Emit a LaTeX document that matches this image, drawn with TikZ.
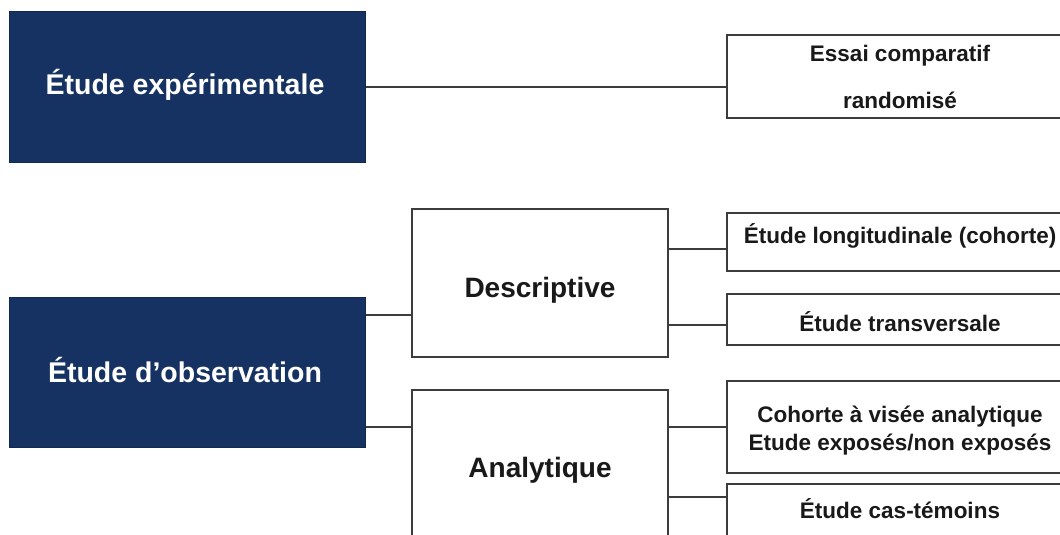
\documentclass[tikz,border=0pt]{standalone}
\usepackage{fontspec}
\setmainfont{Liberation Sans}
\definecolor{navy}{RGB}{22,50,98}
\definecolor{edge}{RGB}{60,60,60}
\definecolor{ink}{RGB}{25,25,25}
\begin{document}
\begin{tikzpicture}[x=1pt,y=-1pt,
  darkbox/.style={draw=navy!80!black,fill=navy,line width=1pt,inner sep=0pt},
  whitebox/.style={draw=edge,fill=white,line width=2pt,inner sep=0pt},
  bigtext/.style={text=white,font=\fontsize{28.5}{32}\selectfont\bfseries,anchor=base,inner sep=0pt},
  midtext/.style={text=ink,font=\fontsize{28}{32}\selectfont\bfseries,anchor=base,inner sep=0pt},
  smalltext/.style={text=ink,font=\fontsize{22.5}{26}\selectfont\bfseries,anchor=base,inner sep=0pt},
  link/.style={draw=edge,line width=2pt}]
\useasboundingbox (0,0) rectangle (1060,535);
\begin{scope}
\clip (0,0) rectangle (1060,535);
% dark boxes
\node[darkbox,minimum width=356pt,minimum height=150pt] (exp) at (187,87) {};
\node[darkbox,minimum width=356pt,minimum height=150pt] (obs) at (187,372) {};
% middle boxes
\node[whitebox,minimum width=256pt,minimum height=148pt] (desc) at (540,283) {};
\node[whitebox,minimum width=256pt,minimum height=160pt] (ana) at (540,470) {};
% right boxes
\node[whitebox,minimum width=346pt,minimum height=83pt] (essai) at (900,76.5) {};
\node[whitebox,minimum width=346pt,minimum height=58pt] (long) at (900,242) {};
\node[whitebox,minimum width=346pt,minimum height=51pt] (trans) at (900,319.5) {};
\node[whitebox,minimum width=346pt,minimum height=92pt] (coh) at (900,427) {};
\node[whitebox,minimum width=346pt,minimum height=80pt] (cas) at (900,524) {};
% texts
\node[bigtext] (expT) at (185,94) {Étude expérimentale};
\node[bigtext] (obsT) at (185,382) {Étude d’observation};
\node[midtext] (descT) at (540,297) {Descriptive};
\node[midtext] (anaT) at (540,477) {Analytique};
\node[smalltext] (essaiT1) at (900,62) {Essai comparatif};
\node[smalltext] (essaiT2) at (900,108) {randomisé};
\node[smalltext] (longT) at (900,243) {Étude longitudinale (cohorte)};
\node[smalltext] (transT) at (900,331) {Étude transversale};
\node[smalltext] (cohT1) at (900,422) {Cohorte à visée analytique};
\node[smalltext] (cohT2) at (900,450) {Etude exposés/non exposés};
\node[smalltext] (casT) at (900,518) {Étude cas-témoins};
% connectors
\coordinate (yExp) at (0,87);
\coordinate (yDesc) at (0,315);
\coordinate (yAna) at (0,427);
\coordinate (yLong) at (0,249);
\coordinate (yTrans) at (0,325);
\coordinate (yCas) at (0,497);
\draw[link] (exp.east |- yExp) -- (essai.west |- yExp);
\draw[link] (obs.east |- yDesc) -- (desc.west |- yDesc);
\draw[link] (obs.east |- yAna) -- (ana.west |- yAna);
\draw[link] (desc.east |- yLong) -- (long.west |- yLong);
\draw[link] (desc.east |- yTrans) -- (trans.west |- yTrans);
\draw[link] (ana.east |- yAna) -- (coh.west |- yAna);
\draw[link] (ana.east |- yCas) -- (cas.west |- yCas);
\end{scope}
\end{tikzpicture}
\end{document}
